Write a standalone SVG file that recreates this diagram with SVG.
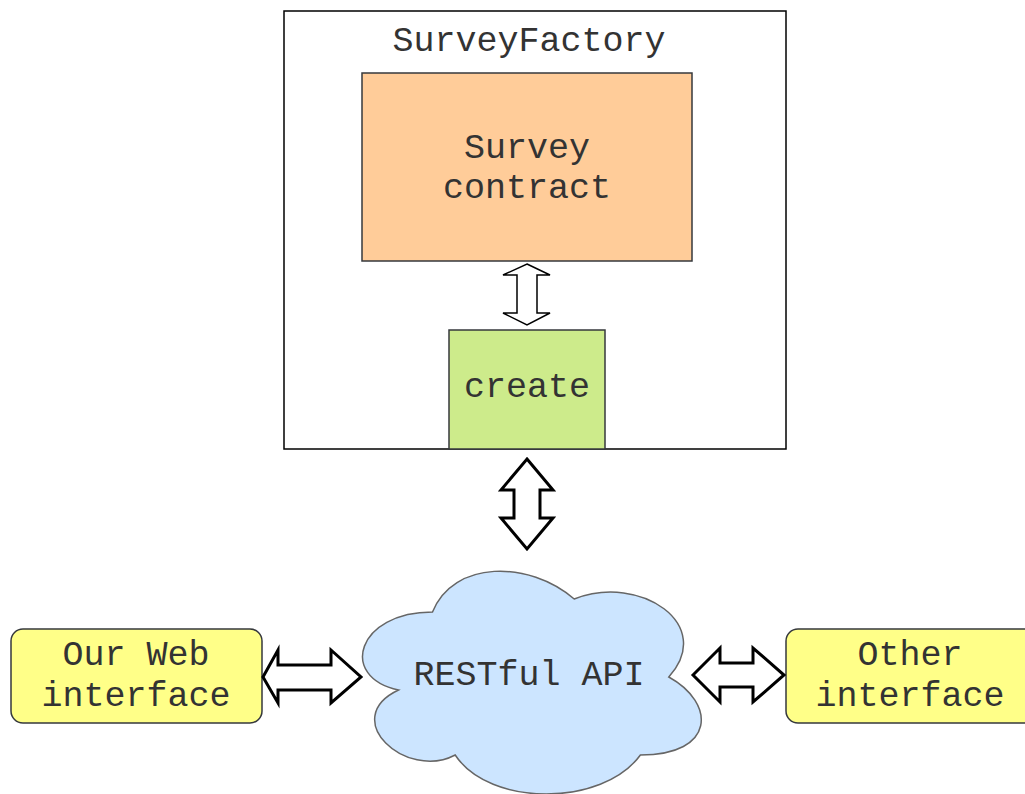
<svg xmlns="http://www.w3.org/2000/svg" width="1025" height="794" viewBox="0 0 1025 794">
  <style>
    .lbl { font-family: "Liberation Mono", "Courier New", monospace; font-size: 35px; fill: #333333; text-anchor: middle; }
    .arrow { fill: #ffffff; stroke: #000000; stroke-linejoin: miter; }
  </style>
  <rect x="0" y="0" width="1025" height="794" fill="#ffffff"/>

  <g id="survey-factory">
    <rect x="284" y="11" width="502" height="438" fill="#ffffff" stroke="#000000" stroke-width="1.5"/>
    <text class="lbl" x="529" y="51">SurveyFactory</text>
  </g>

  <g id="survey-contract">
    <rect x="362" y="73" width="330" height="188" fill="#ffcc99" stroke="#36393d" stroke-width="1.5"/>
    <text class="lbl" x="527" y="158">Survey</text>
    <text class="lbl" x="527" y="198">contract</text>
  </g>

  <g id="create">
    <rect x="449" y="330" width="156" height="119" fill="#cdeb8b" stroke="#36393d" stroke-width="1.5"/>
    <text class="lbl" x="527" y="397">create</text>
  </g>

  <g id="restful-api">
    <path d="M432.5,612 C356.9,612 338,677 398.5,690 C338,718.6 406,781 455.2,755 C489.2,807 602.6,807 640.4,755 C716,755 716,703 668.8,677 C716,625 640.4,573 574.2,599 C528.9,560 453.3,560 432.5,612 Z" fill="#cce5ff" stroke="#666666" stroke-width="1.5"/>
    <text class="lbl" x="529" y="685">RESTful API</text>
  </g>

  <g id="our-web-interface">
    <rect x="11" y="629" width="251" height="94" rx="12" ry="12" fill="#ffff88" stroke="#36393d" stroke-width="1.5"/>
    <text class="lbl" x="136" y="665">Our Web</text>
    <text class="lbl" x="136" y="706">interface</text>
  </g>

  <g id="other-interface">
    <rect x="786" y="629" width="250" height="94" rx="12" ry="12" fill="#ffff88" stroke="#36393d" stroke-width="1.5"/>
    <text class="lbl" x="910" y="665">Other</text>
    <text class="lbl" x="910" y="706">interface</text>
  </g>

  <g id="connectors">
    <!-- contract <-> create -->
    <path class="arrow" stroke-width="1.5" d="M527,264 L550,275 L537,275 L537,313 L550,313 L527,325 L503,313 L517,313 L517,275 L503,275 Z"/>
    <!-- create <-> RESTful API -->
    <path class="arrow" stroke-width="3" d="M527,459 L553,490 L540,490 L540,518 L553,518 L527,549 L501,518 L514,518 L514,490 L501,490 Z"/>
    <!-- web interface <-> RESTful API -->
    <path class="arrow" stroke-width="3" d="M263,677 L278,650 L278,665 L331,665 L331,650 L361,677 L331,703 L331,690 L278,690 L278,703 Z"/>
    <!-- RESTful API <-> other interface -->
    <path class="arrow" stroke-width="3" d="M693,675 L720,648 L720,663 L753,663 L753,648 L784,675 L753,702 L753,687 L720,687 L720,702 Z"/>
  </g>
</svg>
